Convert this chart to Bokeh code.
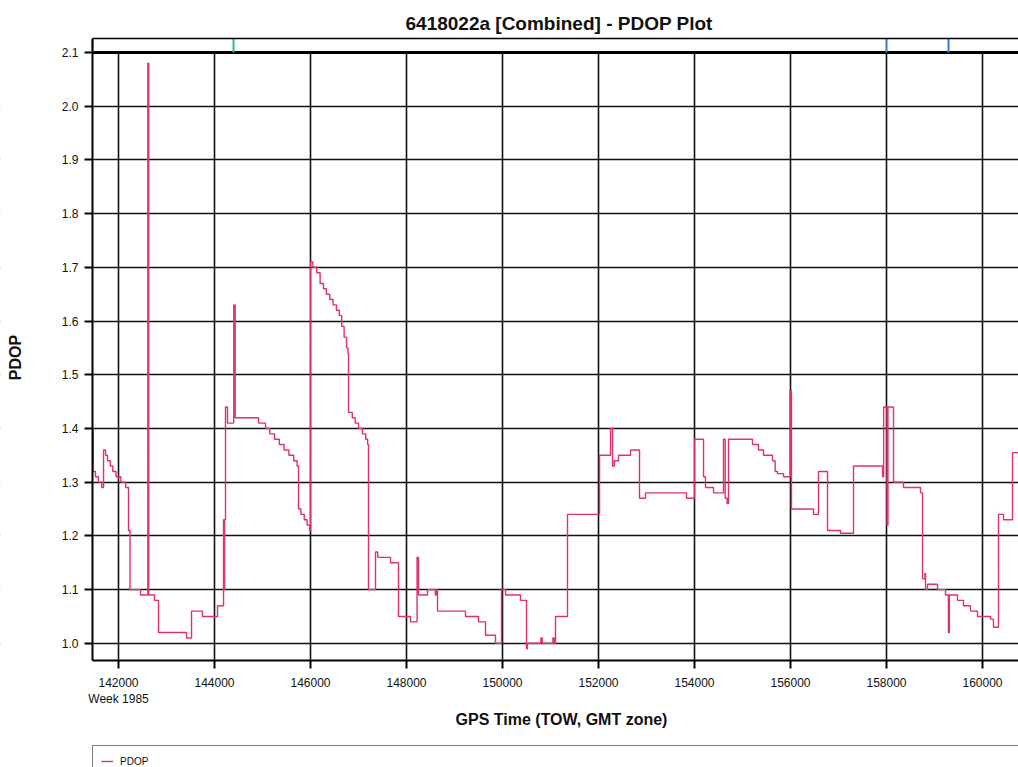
import math
from bokeh.plotting import figure
from bokeh.models import (FixedTicker, LinearAxis, BoxAnnotation, Title, Label,
                          NumeralTickFormatter)
from bokeh.embed import file_html
from bokeh.resources import INLINE

# ---------------- data (GPS time of week, PDOP) ----------------
tow = [141458, 141470, 141520, 141580, 141650, 141688, 141730, 141770, 141830, 141880,
       141950, 142050, 142150, 142208, 142240, 142458, 142610, 142630, 142750, 142833,
       143417, 143521, 143750, 144063, 144188, 144200, 144210, 144229, 144271, 144400,
       144430, 144917, 145063, 145150, 145250, 145350, 145450, 145550, 145650, 145720,
       145750, 145800, 145870, 145930, 145980, 146000, 146050, 146130, 146200, 146270,
       146330, 146400, 146470, 146540, 146600, 146650, 146700, 146750, 146780, 146792,
       146870, 146930, 147000, 147080, 147150, 147190, 147208, 147354, 147400, 147667,
       147833, 148083, 148220, 148250, 148438, 148600, 148620, 148646, 149229, 149500,
       149646, 149854, 149979, 150063, 150375, 150500, 150520, 150800, 150830, 151050,
       151080, 151104, 151354, 152021, 152250, 152292, 152330, 152417, 152667, 152854,
       152979, 153833, 154000, 154188, 154229, 154396, 154604, 154640, 154680, 154708,
       155208, 155333, 155438, 155625, 155680, 155729, 155854, 155990, 156020, 156479,
       156583, 156771, 157042, 157313, 157917, 157940, 158010, 158030, 158146, 158354,
       158708, 158750, 158800, 158813, 158854, 159063, 159229, 159290, 159310, 159479,
       159604, 159750, 159896, 160167, 160229, 160333, 160438, 160625, 160750]
pdop = [1.40, 1.32, 1.31, 1.30, 1.29, 1.36, 1.35, 1.34, 1.33, 1.32,
        1.31, 1.30, 1.29, 1.21, 1.10, 1.09, 2.08, 1.09, 1.08, 1.02,
        1.01, 1.06, 1.05, 1.07, 1.23, 1.10, 1.23, 1.44, 1.41, 1.63,
        1.42, 1.41, 1.40, 1.39, 1.38, 1.37, 1.36, 1.35, 1.34, 1.33,
        1.25, 1.24, 1.23, 1.22, 1.21, 1.71, 1.70, 1.69, 1.67, 1.66,
        1.65, 1.64, 1.63, 1.62, 1.61, 1.59, 1.57, 1.55, 1.54, 1.43,
        1.42, 1.41, 1.40, 1.39, 1.38, 1.37, 1.10, 1.17, 1.16, 1.15,
        1.05, 1.04, 1.16, 1.09, 1.10, 1.09, 1.10, 1.06, 1.05, 1.04,
        1.015, 1.00, 1.10, 1.09, 1.08, 0.99, 1.00, 1.01, 1.00, 1.01,
        1.00, 1.05, 1.24, 1.35, 1.40, 1.33, 1.34, 1.35, 1.36, 1.27,
        1.28, 1.27, 1.38, 1.31, 1.29, 1.28, 1.38, 1.27, 1.26, 1.38,
        1.37, 1.36, 1.35, 1.34, 1.32, 1.316, 1.31, 1.47, 1.25, 1.24,
        1.32, 1.21, 1.205, 1.33, 1.31, 1.44, 1.22, 1.44, 1.30, 1.29,
        1.28, 1.12, 1.13, 1.10, 1.11, 1.10, 1.09, 1.02, 1.09, 1.08,
        1.07, 1.06, 1.05, 1.045, 1.03, 1.24, 1.23, 1.355, 1.355]

x_ticks = [142000, 144000, 146000, 148000, 150000, 152000, 154000, 156000, 158000, 160000]
y_ticks = [1.0, 1.1, 1.2, 1.3, 1.4, 1.5, 1.6, 1.7, 1.8, 1.9, 2.0, 2.1]
green_marks = [141458, 144396]
blue_marks = [158000, 159292]

title_text = "6418022a [Combined] - PDOP Plot"
x_label = "GPS Time (TOW, GMT zone)"
y_label = "PDOP"
week_text = "Week 1985"
series_name = "PDOP"

# ---------------- layout ----------------
W, H = 1018, 767
L, T = 92, 38                  # plot-box left / top, px
PLOT_BOTTOM_PX = 660           # where the x axis sits
X0, X1 = 141458, 160750        # data extent of the plot box
AX_Y = 0.968                   # data value at the x axis line
Y1 = 2.126                     # top of the event band
BAND_Y = 2.1
PXU_X = (W - L) / (X1 - X0)
PXU_Y = (PLOT_BOTTOM_PX - T) / (Y1 - AX_Y)
XS = X0 - L / PXU_X                              # frame spans the whole width
Y0 = AX_Y - (H - PLOT_BOTTOM_PX) / PXU_Y         # frame extends to canvas bottom


def px_x(px):
    return XS + px / PXU_X


def px_y(py):
    return Y1 - (py - T) / PXU_Y


FONT = "Liberation Sans"
TXT = "#111111"
LINE_COLOR = "#e0336a"

p = figure(width=W, height=H, x_range=(XS, X1), y_range=(Y0, Y1),
           output_backend="svg", toolbar_location=None,
           min_border_left=0, min_border_top=T, min_border_bottom=0, min_border_right=0)
p.outline_line_color = None
p.background_fill_color = "white"
p.border_fill_color = "white"

# title
p.title = Title(text=title_text, align="left", offset=405, standoff=10,
                text_font=FONT, text_font_size="19px", text_font_style="bold",
                text_color=TXT)

# axes
p.xaxis.ticker = FixedTicker(ticks=x_ticks)
p.yaxis.ticker = FixedTicker(ticks=y_ticks)
p.xaxis.formatter = NumeralTickFormatter(format="0")
p.yaxis.formatter = NumeralTickFormatter(format="0.0")
p.xaxis.major_label_overrides = {x_ticks[0]: f"{x_ticks[0]}\n{week_text}"}
p.xaxis.fixed_location = AX_Y
p.yaxis.fixed_location = X0
p.xaxis.bounds = (X0, X1)
p.yaxis.bounds = (AX_Y, Y1)
for ax in (p.xaxis[0], p.yaxis[0]):
    ax.axis_line_color = "black"
    ax.axis_line_width = 2
    ax.major_tick_line_color = "black"
    ax.major_tick_line_width = 2
    ax.major_tick_out = 8
    ax.major_tick_in = 0
    ax.minor_tick_line_color = None
    ax.major_label_standoff = 6
    ax.major_label_text_font = FONT
    ax.major_label_text_font_size = "12px"
    ax.major_label_text_color = TXT
p.xaxis.major_label_standoff = 7

top_ax = LinearAxis(ticker=FixedTicker(ticks=[]), bounds=(X0, X1),
                    axis_line_color="black", axis_line_width=1.5,
                    major_tick_line_color=None, minor_tick_line_color=None,
                    major_label_text_font_size="0px", major_label_standoff=0)
p.add_layout(top_ax, "above")

# grids
p.xgrid.ticker = FixedTicker(ticks=x_ticks)
p.ygrid.ticker = FixedTicker(ticks=y_ticks)
for g in (p.xgrid[0], p.ygrid[0]):
    g.grid_line_color = "#111111"
    g.grid_line_width = 1.6
    g.grid_line_alpha = 1.0

# mask grid lines outside the plot box (event band, label margins)
FAR = 5000
for kw in (dict(bottom=BAND_Y, top=Y1 + 1, left=XS - FAR, right=X1 + FAR),
           dict(top=AX_Y, bottom=Y0 - 1, left=XS - FAR, right=X1 + FAR),
           dict(right=X0, left=XS - FAR, bottom=Y0 - 1, top=Y1 + 1)):
    p.add_layout(BoxAnnotation(fill_color="white", fill_alpha=1.0, line_color="white",
                               line_width=3, level="underlay", **kw))
# thick separator under the event band
p.segment(x0=[X0], y0=[BAND_Y], x1=[X1], y1=[BAND_Y], line_color="black", line_width=3)
p.segment(x0=green_marks, y0=[BAND_Y] * len(green_marks), x1=green_marks, y1=[Y1] * len(green_marks),
          line_color="#2ec27a", line_width=2)
p.segment(x0=blue_marks, y0=[BAND_Y] * len(blue_marks), x1=blue_marks, y1=[Y1] * len(blue_marks),
          line_color="#2f7fd8", line_width=2)

# data
p.step(tow, pdop, mode="after", line_color=LINE_COLOR, line_width=1.4, legend_label=series_name)

# axis titles
p.add_layout(Label(x=px_x(561), y=px_y(719), text=x_label, text_font=FONT,
                   text_font_size="16px", text_font_style="bold", text_color=TXT,
                   text_align="center", text_baseline="middle"))
p.add_layout(Label(x=px_x(15), y=px_y(357), text=y_label, text_font=FONT, angle=math.pi / 2,
                   text_font_size="16px", text_font_style="bold", text_color=TXT,
                   text_align="center", text_baseline="middle"))

# legend (box below the axis title, cut by the page bottom)
leg = p.legend[0]
leg.location = (L, -10)
leg.margin = 0
leg.padding = 8
leg.glyph_width = 12
leg.glyph_height = 14
leg.label_height = 14
leg.label_width = 960
leg.label_standoff = 7
leg.label_text_font = FONT
leg.label_text_font_size = "10px"
leg.label_text_color = TXT
leg.border_line_color = "black"
leg.border_line_width = 1.5
leg.background_fill_color = "white"
leg.background_fill_alpha = 1.0

open("out.html", "w").write(file_html(p, INLINE))
